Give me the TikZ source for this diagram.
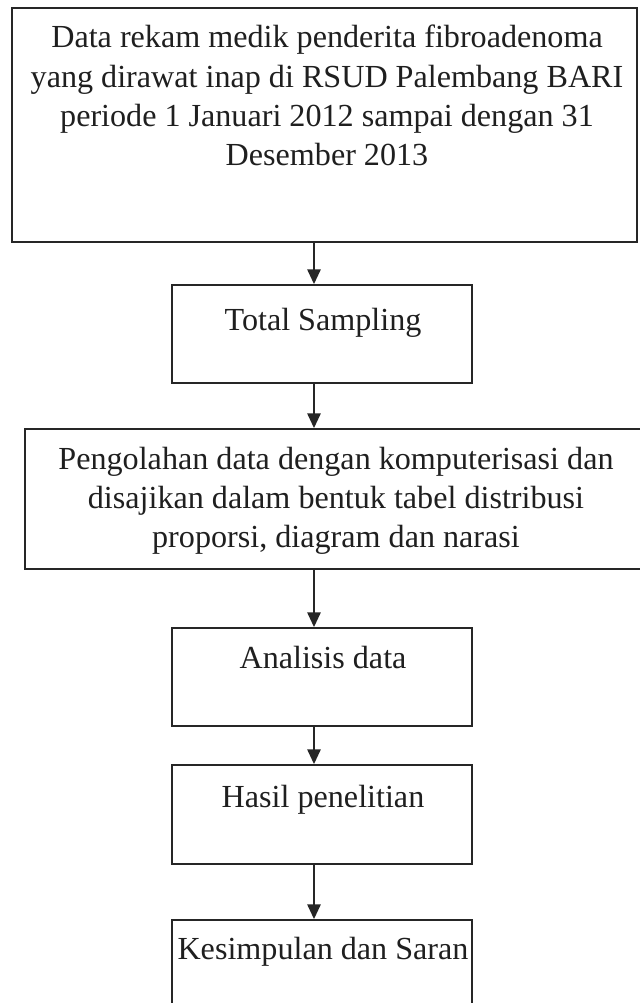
\documentclass[tikz,border=0pt]{standalone}
\usepackage{fontspec}
\setmainfont{Liberation Serif}
\usetikzlibrary{arrows.meta}
\begin{document}
\begin{tikzpicture}[x=0.75pt,y=-0.75pt,
  box/.style={draw=black!85, line width=1.4pt, rectangle, inner sep=0pt},
  txt/.style={font=\fontsize{24.1}{29.4}\selectfont, text=black!88, inner sep=0pt, align=center},
  arr/.style={draw=black!85, line width=1.2pt, -{Triangle[width=10pt,length=11pt]}}]
\useasboundingbox (0,0) rectangle (639,1003);
\fill[white] (0,0) rectangle (639,1003);
% boxes
\node[box, minimum width=468.75pt, minimum height=175.5pt] (b1) at (324.5,125) {};
\node[box, minimum width=225pt, minimum height=73.5pt] (b2) at (322,334) {};
\node[box, minimum width=462pt, minimum height=105pt] (b3) at (333,499) {};
\node[box, minimum width=225pt, minimum height=73.5pt] (b4) at (322,677) {};
\node[box, minimum width=225pt, minimum height=74.25pt] (b5) at (322,814.5) {};
\node[box, minimum width=225pt, minimum height=71.25pt] (b6) at (322,967.5) {};
% texts
\node[txt, anchor=north] (t1) at (327,25) {Data rekam medik penderita fibroadenoma\\yang dirawat inap di RSUD Palembang BARI\\periode 1 Januari 2012 sampai dengan 31\\Desember 2013};
\node[txt, anchor=base] (t2) at (323,330) {Total Sampling};
\node[txt, anchor=north] (t3) at (336,447) {Pengolahan data dengan komputerisasi dan\\disajikan dalam bentuk tabel distribusi\\proporsi, diagram dan narasi};
\node[txt, anchor=base] (t4) at (323,668) {Analisis data};
\node[txt, anchor=base] (t5) at (323,807) {Hasil penelitian};
\node[txt, anchor=base] (t6) at (323,959) {Kesimpulan dan Saran};
% arrows
\coordinate (ax) at (314,0);
\draw[arr] (b1.south -| ax) -- (b2.north -| ax);
\draw[arr] (b2.south -| ax) -- (b3.north -| ax);
\draw[arr] (b3.south -| ax) -- (b4.north -| ax);
\draw[arr] (b4.south -| ax) -- (b5.north -| ax);
\draw[arr] (b5.south -| ax) -- (b6.north -| ax);
\end{tikzpicture}
\end{document}
